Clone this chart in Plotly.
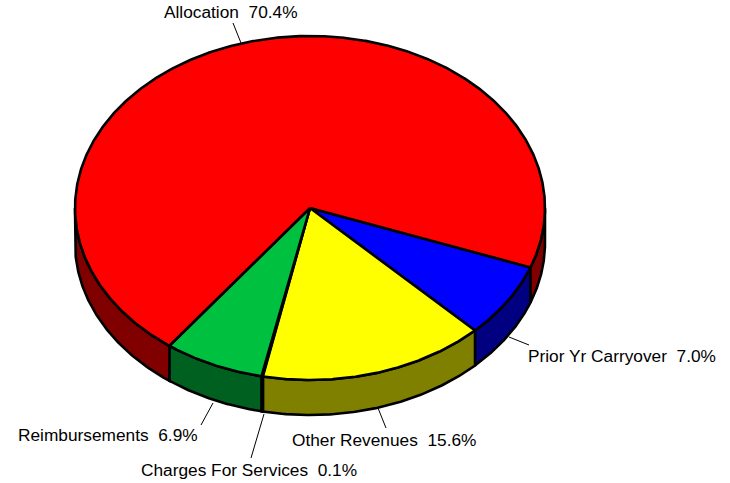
import numpy as np
import plotly.graph_objects as go

categories = ["Prior Yr Carryover", "Other Revenues", "Charges For Services", "Reimbursements", "Allocation"]
values = [7.0, 15.6, 0.1, 6.9, 70.4]
top_colors = ["#0000FF", "#FFFF00", "#000000", "#00C040", "#FF0000"]
side_colors = ["#000080", "#808000", "#000000", "#006020", "#800000"]

# Geometry of the tilted pie, in page pixels
CX, CY, RX, RY, DEPTH = 310, 208, 235, 172, 35
START_DEG = 20.2
LW = 2.6

# label anchor (x, y) and the far end of the leader, per category
label_pos = [(528, 356), (292, 440), (141, 470), (18, 435), (164, 12)]
leader_end = [(529, 345), (386, 428), (251, 458), (201, 425), (233, 23)]
leader_start = [(509, 337), (378, 408), (264, 414), (213, 403), (241, 43)]


def ex(t):
    return CX + RX * np.cos(t)


def ey(t):
    return CY + RY * np.sin(t)


fig = go.Figure()


def poly(xs, ys, fill, width=LW):
    fig.add_trace(go.Scatter(
        x=list(xs), y=list(ys), mode="lines", fill="toself", fillcolor=fill,
        line=dict(color="black", width=width, shape="linear"),
        hoverinfo="skip", showlegend=False))


total = sum(values)
edges = START_DEG + np.concatenate([[0], np.cumsum(values)]) * 360.0 / total

# Side walls: the part of every slice's rim on the near half of the ellipse
for i in range(len(values)):
    a0, a1 = edges[i], edges[i + 1]
    for lo, hi in ((a0, min(a1, 180)), (max(a0, 360), a1)):
        if hi <= lo:
            continue
        t = np.radians(np.linspace(lo, hi, 120))
        xs = np.concatenate([ex(t), ex(t[::-1]), ex(t[:1])])
        ys = np.concatenate([ey(t), ey(t[::-1]) + DEPTH, ey(t[:1])])
        poly(xs, ys, side_colors[i])

# Top faces
for i in range(len(values)):
    t = np.radians(np.linspace(edges[i], edges[i + 1], max(4, int(values[i] * 12))))
    poly(np.concatenate([[CX], ex(t), [CX]]), np.concatenate([[CY], ey(t), [CY]]), top_colors[i])

# Leaders
for (x0, y0), (x1, y1) in zip(leader_start, leader_end):
    fig.add_trace(go.Scatter(x=[x0, x1], y=[y0, y1], mode="lines",
                             line=dict(color="black", width=1),
                             hoverinfo="skip", showlegend=False))

annotations = [
    dict(x=p[0], y=p[1], xref="x", yref="y", text=f"{c}\u00a0\u00a0{v:.1f}%", showarrow=False,
         xanchor="left", yanchor="middle", align="left", xshift=-2,
         font=dict(family="Liberation Sans, Arial, sans-serif", size=17.3, color="black"))
    for c, v, p in zip(categories, values, label_pos)
]

fig.update_layout(
    width=730, height=483, margin=dict(l=0, r=0, t=0, b=0),
    paper_bgcolor="white", plot_bgcolor="white", showlegend=False,
    xaxis=dict(range=[0, 730], visible=False, fixedrange=True),
    yaxis=dict(range=[483, 0], visible=False, fixedrange=True),
    annotations=annotations,
)
fig.write_html("out.html", config={"displayModeBar": False},
               post_script="document.body.style.margin='0';document.body.style.overflow='hidden';")
